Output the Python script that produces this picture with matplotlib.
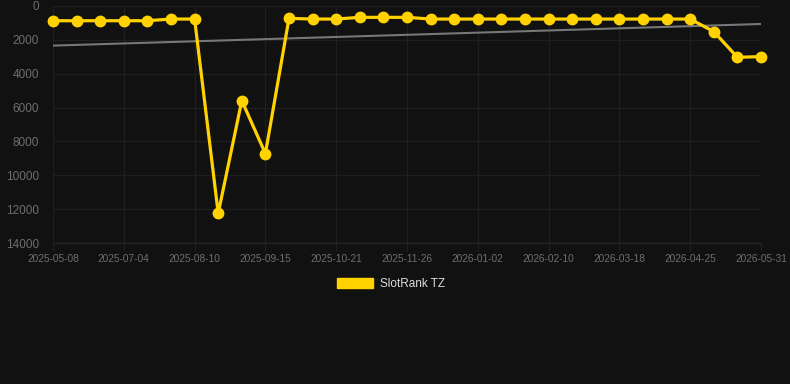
import matplotlib
matplotlib.use("Agg")
import matplotlib.pyplot as plt
from matplotlib.patches import Patch

# rank series (lower is better, y axis inverted)
tick_labels = ["2025-05-08", "2025-07-04", "2025-08-10", "2025-09-15", "2025-10-21",
               "2025-11-26", "2026-01-02", "2026-02-10", "2026-03-18", "2026-04-25",
               "2026-05-31"]
ranks = [870, 870, 870, 870, 870, 770, 770, 12245, 5590, 8720,
         730, 770, 770, 670, 670, 670, 770, 770, 770, 770,
         770, 770, 770, 770, 770, 770, 770, 770, 1515, 3030, 2990]
trend_start = 2340
trend_end = 1063
y_ticks = [0, 2000, 4000, 6000, 8000, 10000, 12000, 14000]

plt.rcParams['font.family'] = ['Liberation Sans', 'DejaVu Sans']

bg = '#111111'
gridc = '#1f1f1f'
fig = plt.figure(figsize=(7.9, 3.84), dpi=100, facecolor=bg)
ax = fig.add_axes([53/790, 1 - 243/384, (761 - 53)/790, (243 - 6)/384])
ax.set_facecolor(bg)

x = list(range(len(ranks)))
ax.plot([x[0], x[-1]], [trend_start, trend_end], color='#777777', lw=1.5, zorder=2)
ax.plot(x, ranks, color='#FFD200', lw=2.3, marker='o', markersize=7.5,
        zorder=3, clip_on=False)

ax.set_xlim(0, len(ranks) - 1)
ax.set_ylim(14000, 0)
ax.set_yticks(y_ticks)
ax.set_yticklabels([str(v) for v in y_ticks])
ax.set_xticks(x[::3])
ax.set_xticklabels(tick_labels)

ax.grid(True, color=gridc, lw=0.9)
ax.set_axisbelow(True)
for s in ax.spines.values():
    s.set_visible(False)
ax.spines['bottom'].set_visible(True)
ax.spines['bottom'].set_color('#262626')
ax.tick_params(axis='both', colors=gridc, labelcolor='#6e6e6e')
ax.tick_params(axis='y', length=0, labelsize=8.5, pad=10)
ax.tick_params(axis='x', length=6, width=0.9, labelsize=7.3, pad=2)

fig.legend(handles=[Patch(facecolor='#FFD200', edgecolor='#FFD200', label='SlotRank TZ')],
           loc='center', bbox_to_anchor=(391/790, 1 - 284/384), frameon=False,
           labelcolor='#dddddd', fontsize=8.5, handlelength=3.0, handleheight=0.9,
           handletextpad=0.6)

fig.savefig('out.png', dpi=100, facecolor=bg)
